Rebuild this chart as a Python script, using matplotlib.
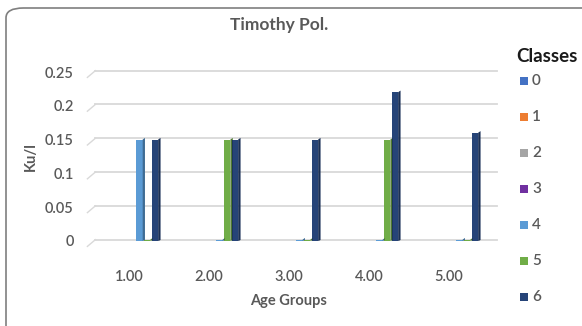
import numpy as np
import matplotlib; matplotlib.use("Agg")
import matplotlib.pyplot as plt
from matplotlib.patches import FancyBboxPatch, Rectangle, Polygon

plt.rcParams['font.family'] = ['Lato', 'DejaVu Sans']

age_groups = ["1.00", "2.00", "3.00", "4.00", "5.00"]
classes = ["0", "1", "2", "3", "4", "5", "6"]
colors = ["#4472C4", "#ED7D31", "#A5A5A5", "#7030A0", "#5B9BD5", "#70AD47", "#264478"]
# classes 0-3 have no values (blank cells), 4-6 shown
cls0 = [None, None, None, None, None]
cls1 = [None, None, None, None, None]
cls2 = [None, None, None, None, None]
cls3 = [None, None, None, None, None]
cls4 = [0.15, 0.0, 0.0, 0.0, 0.0]
cls5 = [0.0, 0.15, 0.0, 0.15, 0.0]
cls6 = [0.15, 0.15, 0.15, 0.22, 0.16]
series = [cls0, cls1, cls2, cls3, cls4, cls5, cls6]
yticks = [0, 0.05, 0.1, 0.15, 0.2, 0.25]
ytick_labels = ["0", "0.05", "0.1", "0.15", "0.2", "0.25"]

W, H = 582, 326
fig = plt.figure(figsize=(W / 100, H / 100), dpi=100)
ax = fig.add_axes([89 / W, 85 / H, 400 / W, 169 / H])
ax.set_xlim(-0.5, 4.5); ax.set_ylim(0, 0.25)
for s in ax.spines.values(): s.set_visible(False)

# gridlines with a little slanted left end
for yv in yticks:
    ax.plot([-0.42, 4.6], [yv + 0.002, yv + 0.002], color="#D9D9D9", lw=1.3, zorder=0, clip_on=False)
    ax.plot([-0.52, -0.42], [yv - 0.008, yv + 0.002], color="#D9D9D9", lw=1.0, zorder=0, clip_on=False)

bw = 0.097
x = np.arange(len(age_groups))
for i, (vals, c) in enumerate(zip(series, colors)):
    off = (i - 3) * bw + 0.04
    for xi, v in zip(x, vals):
        if v is None:
            continue
        h = max(v, 0.002)
        x0 = xi + off - bw / 2
        fw = bw * 0.85
        ax.add_patch(Rectangle((x0, 0), fw, h, facecolor=c, edgecolor="none", zorder=2))
        side = [(x0 + fw, 0), (x0 + bw + 0.014, 0.0015), (x0 + bw + 0.014, h + 0.0025), (x0 + fw, h)]
        ax.add_patch(Polygon(side, closed=True, facecolor=c, edgecolor="none", zorder=2))
        ax.add_patch(Polygon(side, closed=True, facecolor="black", edgecolor="none", alpha=0.3, zorder=3))

ax.set_xticks(x); ax.set_xticklabels(age_groups)
ax.set_yticks(yticks); ax.set_yticklabels(ytick_labels)
ax.tick_params(length=0, labelsize=10.5, labelcolor="#595959")
for t in ax.get_xticklabels() + ax.get_yticklabels(): t.set_fontweight("semibold")
ax.tick_params(axis="x", pad=21)
ax.tick_params(axis="y", pad=11)
ax.set_xlabel("Age Groups", fontsize=10.5, color="#595959", fontweight="bold", labelpad=7)
ax.set_ylabel("Ku/l", fontsize=10.5, color="#595959", fontweight="bold", labelpad=5)
fig.text(279 / W, 1 - 25 / H, "Timothy Pol.", ha="center", va="center", fontsize=12.5,
         fontweight="bold", color="#595959")

# legend drawn by hand so the title can run off the edge
fig.text(516 / W, 1 - 57 / H, "Classes", ha="left", va="center", fontsize=13.5, fontweight="bold", color="#1a1a1a")
for k, (lab, c) in enumerate(zip(classes, colors)):
    yy = 1 - (81 + 36 * k) / H
    fig.patches.append(Rectangle((520 / W, yy - 4 / H), 8 / W, 8 / H, transform=fig.transFigure,
                                 facecolor=c, edgecolor="none"))
    fig.text(532 / W, yy, lab, ha="left", va="center", fontsize=11, fontweight="semibold", color="#595959")

fig.patches.append(FancyBboxPatch((6 / W, -0.1), 1.2, (1 - 8 / H) + 0.1, boxstyle="round,pad=0,rounding_size=0.03",
                                  transform=fig.transFigure, facecolor="none", edgecolor="#7F7F7F", lw=1.2))
fig.savefig("out.png", dpi=100)
